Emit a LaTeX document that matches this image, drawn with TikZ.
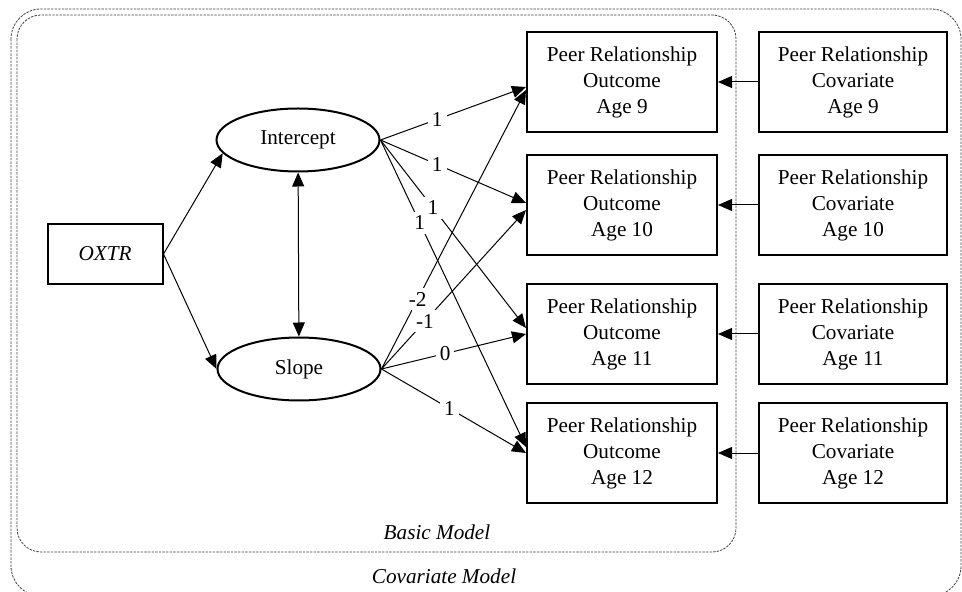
\documentclass[tikz,border=0pt]{standalone}
\usepackage{fontspec}
\setmainfont{Liberation Serif}
\usetikzlibrary{arrows.meta,shapes,positioning}
\tikzset{
    obsbox/.style={draw, line width=1pt, minimum width=95pt, minimum height=50pt, align=center, inner sep=2pt},
    latent/.style={draw, ellipse, line width=1pt, minimum width=81.5pt, minimum height=31.5pt},
    regpath/.style={-{Triangle[length=7pt,width=6pt]}, line width=0.5pt},
    covpath/.style={{Triangle[length=7pt,width=6pt]}-{Triangle[length=7pt,width=6pt]}, line width=0.5pt},
    coef/.style={fill=white, inner sep=2pt},
    modelframe/.style={black!75, line width=0.4pt, dash pattern=on 1.2pt off 0.6pt}
}

\begin{document}
\begin{tikzpicture}[x=0.5pt, y=-0.5pt, font=\fontsize{10.6}{13}\selectfont]
    \useasboundingbox (0,0) rectangle (962,592);
    % model frames
    \draw[modelframe, rounded corners=15pt] (11,9) rectangle (961,596);
    \draw[modelframe, rounded corners=12pt] (17,15) rectangle (736,552);
    \node (basic) at (437,532) {\textit{Basic Model}};
    \node (covmod) at (444,576) {\textit{Covariate Model}};
    % predictor and growth factors
    \node[obsbox, minimum width=57.5pt, minimum height=30pt] (oxtr) at (105,254) {\textit{OXTR}};
    \node[latent] (icept) at (298,140) {Intercept};
    \node[latent] (slope) at (299,369) {Slope};
    \draw[regpath] (oxtr.east) -- (icept.190);
    \draw[regpath] (oxtr.east) -- (slope.west);
    \draw[covpath] (icept) -- (slope);
    % outcomes and covariates
    \foreach \a/\y in {9/82, 10/205, 11/334, 12/453} {
        \node[obsbox] (out\a) at (622,\y) {Peer Relationship\\Outcome\\Age \a};
        \node[obsbox, minimum width=94pt] (cov\a) at (853,\y) {Peer Relationship\\Covariate\\Age \a};
        \draw[regpath] (cov\a) -- (out\a);
    }
    % growth loadings: target/shift/pos
    \foreach \a/\s/\p in {9/-2.5/0.39, 10/1/0.39, 11/3/0.36, 12/3/0.27}
        \draw[regpath] (icept.east) -- ([yshift=\s pt]out\a.west) coordinate[pos=\p] (ic\a);
    \foreach \a/\s/\p in {9/-4/0.25, 10/-2.5/0.30, 11/0/0.44, 12/0/0.47}
        \draw[regpath] (slope.east) -- ([yshift=\s pt]out\a.west) coordinate[pos=\p] (sl\a);
    % loading labels on top
    \foreach \a/\v in {9/1, 10/1, 11/1, 12/1}
        \node[coef] at (ic\a) {\v};
    \foreach \a/\v in {9/-2, 10/-1, 11/0, 12/1}
        \node[coef] at (sl\a) {\v};
\end{tikzpicture}
\end{document}
